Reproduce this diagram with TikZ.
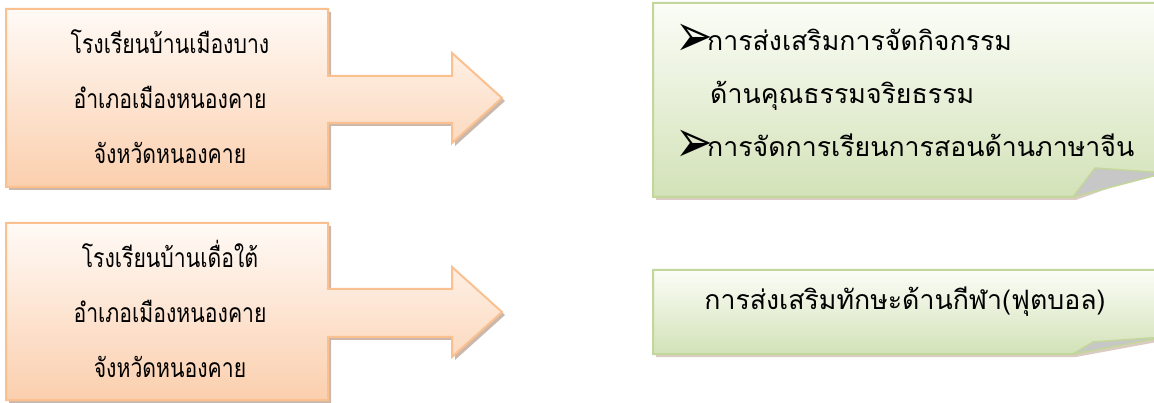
\documentclass[tikz,border=0pt]{standalone}
\usepackage{graphicx}
\usepackage{fontspec}
\newfontfamily\thaifont[Script=Thai]{Loma}
\newfontfamily\thainarrow[Script=Thai, FakeStretch=0.8]{Loma}
\newfontfamily\symfont{DejaVu Sans}
\definecolor{peachline}{HTML}{FAC090}
\definecolor{peachtop}{HTML}{FFFAF6}
\definecolor{peachbot}{HTML}{FBCFAE}
\definecolor{leafline}{HTML}{C3D69B}
\definecolor{leaftop}{HTML}{FBFDF7}
\definecolor{leafbot}{HTML}{D3E2B8}
\definecolor{shade}{HTML}{B59A86}
\newcommand{\bul}{\makebox[27pt][l]{\hspace*{-5pt}\smash{\raisebox{-6pt}{\scalebox{1}[1.35]{\symfont\fontsize{45}{53}\selectfont\char"27A2}}}}}
\tikzset{
  arrowbox/.style={draw=peachline, line width=2pt, line join=miter, top color=peachtop, bottom color=peachbot},
  notebox/.style={draw=leafline, line width=2pt, line join=miter, top color=leaftop, bottom color=leafbot},
  dropshadow/.style={fill=shade, opacity=0.7},
  fold/.style={fill=black!22, draw=leafline, line width=1.5pt, line join=round},
  label/.style={inner sep=0pt, font={\thainarrow\fontsize{26.5}{55}\selectfont}},
  notelabel/.style={inner sep=0pt, font={\thaifont\fontsize{26.7}{53}\selectfont}}
}
\begin{document}
\begin{tikzpicture}[x=1pt, y=-1pt]
	\useasboundingbox (0,0) rectangle (1154,403);
	% orange arrows
	\foreach \dy in {0,214}{
		\fill[dropshadow, shift={(3,3+\dy)}] (6,9) -- (328,9) -- (328,76) -- (452,76) -- (452,53) -- (502,98) -- (452,143) -- (452,123) -- (328,123) -- (328,187) -- (6,187) -- cycle;
	}
	\draw[arrowbox] (6,9) -- (328,9) -- (328,76) -- (452,76) -- (452,53) -- (502,98) -- (452,143) -- (452,123) -- (328,123) -- (328,187) -- (6,187) -- cycle;
	\draw[arrowbox] (6,223) -- (328,223) -- (328,289) -- (452,289) -- (452,267) -- (502,312) -- (452,357) -- (452,337) -- (328,337) -- (328,400) -- (6,400) -- cycle;
	% green notes
	\fill[dropshadow, opacity=0.5] (656,6) -- (1168,6) -- (1168,167) -- (1076,200) -- (656,200) -- cycle;
	\fill[dropshadow, opacity=0.5] (656,273) -- (1168,273) -- (1168,340) -- (1076,357) -- (656,357) -- cycle;
	\draw[notebox] (653,3) -- (1165,3) -- (1165,169) -- (1073,197) -- (653,197) -- cycle;
	\draw[fold] (1073,197) -- (1095,168) -- (1165,173) -- cycle;
	\draw[notebox] (653,270) -- (1165,270) -- (1165,336) -- (1073,354) -- (653,354) -- cycle;
	\draw[fold] (1073,354) -- (1093,342) -- (1165,337) -- cycle;
	% texts
	\node[label, align=center] (bangtext) at (170,97) {โรงเรียนบ้านเมืองบาง\\อำเภอเมืองหนองคาย\\จังหวัดหนองคาย};
	\node[label, align=center] (duetext) at (170,309) {โรงเรียนบ้านเดื่อใต้\\อำเภอเมืองหนองคาย\\จังหวัดหนองคาย};
	\node[notelabel, align=left, anchor=west] (bangnote) at (680,93) {\bul การส่งเสริมการจัดกิจกรรม\\\hspace*{30pt}ด้านคุณธรรมจริยธรรม\\\bul การจัดการเรียนการสอนด้านภาษาจีน};
	\node[notelabel] (duenote) at (905,302) {การส่งเสริมทักษะด้านกีฬา(ฟุตบอล)};
\end{tikzpicture}
\end{document}
